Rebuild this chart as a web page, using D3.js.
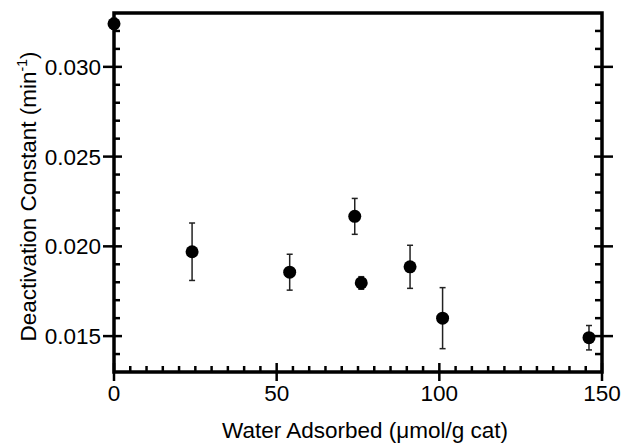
<!DOCTYPE html>
<html>
<head>
<meta charset="utf-8">
<script src="https://cdn.jsdelivr.net/npm/d3@7"></script>
<style>
  html, body { margin: 0; padding: 0; background: #fff; }
  svg { display: block; }
  text { font-family: "Liberation Sans", Arial, Helvetica, sans-serif; fill: #000; }
</style>
</head>
<body>
<svg id="chart" width="623" height="445"></svg>
<script>
// ---- data ----
const waterAdsorbed = [0, 24, 54, 74, 76, 91, 101, 146];
const deactConst    = [0.0324, 0.0197, 0.01856, 0.02167, 0.01796, 0.01886, 0.0160, 0.01491];
const errorBars     = [0.0003, 0.0016, 0.0010, 0.0010, 0.00035, 0.0012, 0.0017, 0.00068];
const xTickValues   = [0, 50, 100, 150];
const yTickValues   = [0.015, 0.020, 0.025, 0.030];
const xLabel = "Water Adsorbed (\u03bcmol/g cat)";
const yLabel = "Deactivation Constant (min";

// ---- layout ----
const W = 623, H = 445;
const m = { left: 114, right: 21, top: 13, bottom: 73 };
const x0 = m.left, x1 = W - m.right, y0 = H - m.bottom, y1 = m.top;

const x = d3.scaleLinear().domain([0, 150]).range([x0, x1]);
const y = d3.scaleLinear().domain([0.013, 0.033]).range([y0, y1]);

const svg = d3.select("#chart");
const FS = 22.5;

// minor ticks
const xMinor = d3.range(0, 150.01, 5).filter(v => !xTickValues.includes(v));
const yMinor = d3.range(13, 33.01, 1).map(v => +(v / 1000).toFixed(3))
  .filter(v => !yTickValues.some(t => Math.abs(t - v) < 1e-9) && v > 0.0131 && v < 0.0329);

const g = svg.append("g");

// bottom axis minor ticks (inward)
g.selectAll(".xmin").data(xMinor).join("line")
  .attr("x1", d => x(d)).attr("x2", d => x(d))
  .attr("y1", y0).attr("y2", y0 - 6)
  .attr("stroke", "#000").attr("stroke-width", 2.5);
// bottom major ticks (crossing)
g.selectAll(".xmaj").data(xTickValues).join("line")
  .attr("x1", d => x(d)).attr("x2", d => x(d))
  .attr("y1", y0 - 9).attr("y2", y0 + 9)
  .attr("stroke", "#000").attr("stroke-width", 2.5);

// left axis minor ticks (inward)
g.selectAll(".yminL").data(yMinor).join("line")
  .attr("x1", x0).attr("x2", x0 + 6)
  .attr("y1", d => y(d)).attr("y2", d => y(d))
  .attr("stroke", "#000").attr("stroke-width", 2.5);
g.selectAll(".ymajL").data(yTickValues).join("line")
  .attr("x1", x0 - 11).attr("x2", x0 + 8)
  .attr("y1", d => y(d)).attr("y2", d => y(d))
  .attr("stroke", "#000").attr("stroke-width", 2.5);

// right axis ticks
g.selectAll(".yminR").data(yMinor).join("line")
  .attr("x1", x1).attr("x2", x1 - 7)
  .attr("y1", d => y(d)).attr("y2", d => y(d))
  .attr("stroke", "#000").attr("stroke-width", 2.5);
g.selectAll(".ymajR").data(yTickValues).join("line")
  .attr("x1", x1 - 8).attr("x2", x1 + 11)
  .attr("y1", d => y(d)).attr("y2", d => y(d))
  .attr("stroke", "#000").attr("stroke-width", 2.5);

// frame
g.append("path")
  .attr("d", `M${x0},${y0}H${x1}V${y1}H${x0}Z`)
  .attr("fill", "none").attr("stroke", "#000").attr("stroke-width", 3.5)
  .attr("stroke-linejoin", "miter");

// tick labels
svg.selectAll(".xtl").data(xTickValues).join("text")
  .attr("x", d => x(d)).attr("y", 401)
  .attr("text-anchor", "middle").attr("font-size", FS)
  .text(d => d3.format("d")(d));
svg.selectAll(".ytl").data(yTickValues).join("text")
  .attr("x", 101).attr("y", d => y(d) + 8)
  .attr("text-anchor", "end").attr("font-size", FS)
  .text(d => d3.format(".3f")(d));

// axis titles
svg.append("text")
  .attr("x", 365).attr("y", 438)
  .attr("text-anchor", "middle").attr("font-size", FS)
  .text(xLabel);

const yt = svg.append("text")
  .attr("transform", `translate(36,196.5) rotate(-90)`)
  .attr("text-anchor", "middle").attr("font-size", FS);
yt.append("tspan").text(yLabel);
yt.append("tspan").attr("font-size", 14).attr("dy", -9).text("-1");
yt.append("tspan").attr("dy", 9).text(")");

// data
const pts = waterAdsorbed.map((v, i) => ({ x: v, y: deactConst[i], e: errorBars[i] }));
const eb = svg.append("g").attr("stroke", "#222").attr("stroke-width", 1.5);
eb.selectAll(".ev").data(pts).join("line")
  .attr("x1", d => x(d.x)).attr("x2", d => x(d.x))
  .attr("y1", d => y(d.y - d.e)).attr("y2", d => y(d.y + d.e));
eb.selectAll(".ct").data(pts).join("line")
  .attr("x1", d => x(d.x) - 3).attr("x2", d => x(d.x) + 3)
  .attr("y1", d => y(d.y + d.e)).attr("y2", d => y(d.y + d.e));
eb.selectAll(".cb").data(pts).join("line")
  .attr("x1", d => x(d.x) - 3).attr("x2", d => x(d.x) + 3)
  .attr("y1", d => y(d.y - d.e)).attr("y2", d => y(d.y - d.e));

svg.append("g").selectAll("circle").data(pts).join("circle")
  .attr("cx", d => x(d.x)).attr("cy", d => y(d.y)).attr("r", 6.5)
  .attr("fill", "#000");
</script>
</body>
</html>
